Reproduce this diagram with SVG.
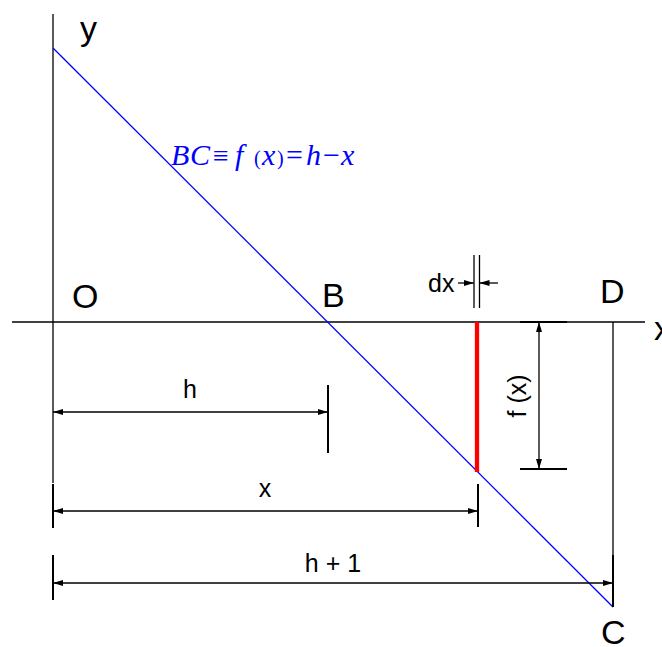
<svg xmlns="http://www.w3.org/2000/svg" width="662" height="647" viewBox="0 0 662 647">
<style>
.ax{stroke:#000;stroke-width:1.3;fill:none}
.tk{stroke:#000;stroke-width:2;fill:none}
.dim{stroke:#000;stroke-width:1.3;fill:none}
.lbl{font-family:"Liberation Sans",Arial,sans-serif;font-size:34px;fill:#000}
.sm{font-family:"Liberation Sans",Arial,sans-serif;font-size:25px;fill:#000}
.fm{font-family:"Liberation Serif","Times New Roman",serif;font-style:italic;font-size:30px;fill:#0000FF}
</style>
<defs>
<marker id="ah" viewBox="0 0 10 6" refX="10" refY="3" markerWidth="10" markerHeight="6" markerUnits="userSpaceOnUse" orient="auto-start-reverse">
<path d="M0,0 L10,3 L0,6 z" fill="#000"/>
</marker>
</defs>
<rect width="662" height="647" fill="#fff"/>
<g id="axes">
<line class="ax" x1="12" y1="322" x2="645" y2="322"/>
<line class="ax" x1="53" y1="14" x2="53" y2="483"/>
<line class="ax" x1="613" y1="322" x2="613" y2="556"/>
</g>
<g id="connectors">
<line id="lineBC" x1="53" y1="48" x2="613" y2="607" stroke="#0000FF" stroke-width="1.3"/>
<line id="fx-bar" x1="477" y1="322" x2="477" y2="472" stroke="#FF0000" stroke-width="4.3"/>
<line class="tk" x1="328" y1="385" x2="328" y2="453"/>
<line class="dim" x1="53" y1="412" x2="328" y2="412" marker-start="url(#ah)" marker-end="url(#ah)"/>
<line class="tk" x1="53" y1="484" x2="53" y2="528"/>
<line class="tk" x1="478" y1="484" x2="478" y2="527"/>
<line class="dim" x1="53" y1="511" x2="478" y2="511" marker-start="url(#ah)" marker-end="url(#ah)"/>
<line class="tk" x1="53" y1="555" x2="53" y2="600"/>
<line class="tk" x1="613" y1="555" x2="613" y2="607"/>
<line class="dim" x1="53" y1="583" x2="613" y2="583" marker-start="url(#ah)" marker-end="url(#ah)"/>
<line class="tk" x1="520" y1="322" x2="567" y2="322"/>
<line class="tk" x1="520" y1="469" x2="567" y2="469"/>
<line class="dim" x1="539" y1="322" x2="539" y2="469" marker-start="url(#ah)" marker-end="url(#ah)"/>
<line class="dim" x1="474" y1="255" x2="474" y2="308"/>
<line class="dim" x1="479.5" y1="255" x2="479.5" y2="308"/>
<line class="dim" x1="458" y1="283" x2="474" y2="283" marker-end="url(#ah)"/>
<line class="dim" x1="498" y1="283" x2="479.5" y2="283" marker-end="url(#ah)"/>
</g>
<g id="labels">
<text class="lbl" x="80" y="40">y</text>
<text class="lbl" x="72" y="308">O</text>
<text class="lbl" x="322" y="307">B</text>
<text class="lbl" x="600" y="303">D</text>
<text class="lbl" x="601" y="644">C</text>
<text class="lbl" x="654" y="340">x</text>
<text class="sm" x="190" y="398" text-anchor="middle">h</text>
<text class="sm" x="265" y="497" font-size="26" text-anchor="middle">x</text>
<text class="sm" x="333" y="572" font-size="26" text-anchor="middle">h + 1</text>
<text class="sm" x="428" y="292" font-size="24">dx</text>
<text class="sm" transform="translate(526,396) rotate(-90)" font-size="24" text-anchor="middle">f (x)</text>
</g>
<g id="formula">
<text class="fm" y="165"><tspan x="171">B</tspan><tspan x="190">C</tspan><tspan x="213" font-style="normal" font-size="28">≡</tspan><tspan x="235">f</tspan><tspan x="254" font-style="normal" font-size="20">(</tspan><tspan x="262">x</tspan><tspan x="277" font-style="normal" font-size="20">)</tspan><tspan x="286" font-style="normal">=</tspan><tspan x="306">h</tspan><tspan x="323" font-style="normal">−</tspan><tspan x="341">x</tspan></text>
</g>
</svg>
